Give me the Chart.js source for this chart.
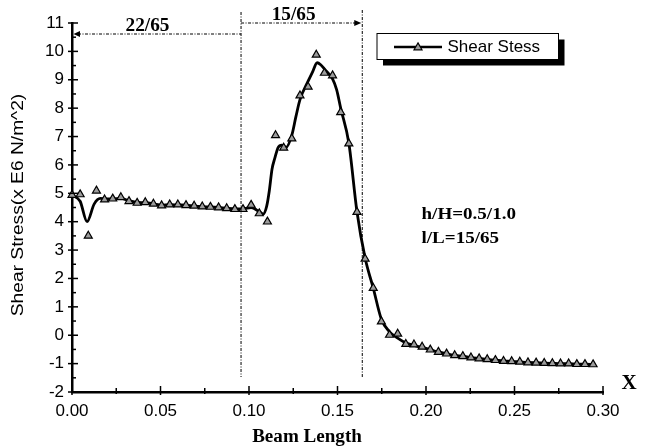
<!DOCTYPE html>
<html>
<head>
<meta charset="utf-8">
<script src="https://cdn.jsdelivr.net/npm/chart.js@4"></script>
<style>
  html, body { margin: 0; padding: 0; background: #fff; }
  canvas { display: block; }
</style>
</head>
<body>
<canvas id="myChart" width="646" height="448"></canvas>
<script>
// measured points (triangles)
const pointX = [0, 0.0046, 0.0092, 0.0138, 0.0184, 0.023, 0.0276, 0.0322, 0.0368, 0.0414,
  0.046, 0.0506, 0.0552, 0.0598, 0.0644, 0.069, 0.0736, 0.0782, 0.0828, 0.0874,
  0.092, 0.0966, 0.1012, 0.1058, 0.1104, 0.115, 0.1196, 0.1242, 0.1288, 0.1334,
  0.138, 0.1426, 0.1472, 0.1518, 0.1564, 0.161, 0.1656, 0.1702, 0.1748, 0.1794,
  0.184, 0.1886, 0.1932, 0.1978, 0.2024, 0.207, 0.2116, 0.2162, 0.2208, 0.2254,
  0.23, 0.2346, 0.2392, 0.2438, 0.2484, 0.253, 0.2576, 0.2622, 0.2668, 0.2714,
  0.276, 0.2806, 0.2852, 0.2898, 0.2944];
const pointY = [4.94, 4.96, 3.50, 5.09, 4.78, 4.81, 4.86, 4.72, 4.66, 4.68,
  4.63, 4.57, 4.60, 4.60, 4.58, 4.56, 4.53, 4.52, 4.50, 4.47,
  4.44, 4.44, 4.59, 4.29, 4.00, 7.04, 6.60, 6.93, 8.44, 8.75,
  9.88, 9.24, 9.15, 7.85, 6.75, 4.34, 2.69, 1.66, 0.48, 0.01,
  0.05, -0.31, -0.33, -0.41, -0.51, -0.59, -0.65, -0.71, -0.74, -0.79,
  -0.82, -0.85, -0.88, -0.91, -0.92, -0.94, -0.96, -0.97, -0.98, -0.99,
  -1.00, -1.00, -1.02, -1.02, -1.03];

// fitted curve (solid line)
const curveX = [0, 0.0046, 0.0085, 0.0125, 0.016, 0.0184, 0.023, 0.0276, 0.0322, 0.0368,
  0.0414, 0.046, 0.0506, 0.0552, 0.0598, 0.0644, 0.069, 0.0736, 0.0782, 0.0828,
  0.0874, 0.092, 0.0966, 0.1012, 0.1058, 0.108, 0.110, 0.1115, 0.113, 0.1145,
  0.1165, 0.1185, 0.121, 0.1242, 0.1265, 0.1288, 0.1334, 0.136, 0.1385, 0.1405,
  0.1426, 0.1472, 0.1495, 0.1518, 0.1564, 0.161, 0.1656, 0.1702, 0.1748, 0.1794,
  0.184, 0.1886, 0.1932, 0.1978, 0.2024, 0.207, 0.2116, 0.2162, 0.2208, 0.2254,
  0.23, 0.2346, 0.2392, 0.2438, 0.2484, 0.253, 0.2576, 0.2622, 0.2668, 0.2714,
  0.276, 0.2806, 0.2852, 0.2898, 0.2944];
const curveY = [4.94, 4.72, 4.00, 4.62, 4.82, 4.80, 4.80, 4.82, 4.74, 4.68,
  4.67, 4.63, 4.58, 4.60, 4.59, 4.58, 4.55, 4.53, 4.52, 4.50,
  4.47, 4.45, 4.45, 4.50, 4.35, 4.27, 4.55, 5.10, 5.85, 6.22,
  6.62, 6.70, 6.62, 7.05, 7.70, 8.30, 8.95, 9.29, 9.60, 9.53,
  9.38, 9.03, 8.65, 8.00, 6.77, 4.35, 2.72, 1.66, 0.56, 0.12,
  -0.10, -0.27, -0.36, -0.43, -0.51, -0.59, -0.65, -0.71, -0.74, -0.79,
  -0.82, -0.85, -0.88, -0.91, -0.92, -0.94, -0.96, -0.97, -0.98, -0.99,
  -1.00, -1.00, -1.02, -1.02, -1.03];

// section boundaries along the beam
const sectionX = [0, 0.0955, 0.164];
const sectionLabels = ['22/65', '15/65'];
const noteLines = ['h/H=0.5/1.0', 'l/L=15/65'];
const seriesName = 'Shear Stess';

const SANS = '"Liberation Sans", Arial, sans-serif';
const SERIF = '"Liberation Serif", "Times New Roman", serif';
const MARK_FILL = '#9c9c9c';

function txt(ctx, s, x, y, font, align, sx) {
  ctx.save();
  ctx.translate(x, y);
  ctx.scale(sx || 1, 1);
  ctx.font = font;
  ctx.fillStyle = '#000';
  ctx.textAlign = align || 'center';
  ctx.textBaseline = 'middle';
  ctx.fillText(s, 0, 0);
  ctx.restore();
}

function tri(ctx, x, y, r) {
  ctx.beginPath();
  ctx.moveTo(x, y - r);
  ctx.lineTo(x + r * 0.866, y + r * 0.5);
  ctx.lineTo(x - r * 0.866, y + r * 0.5);
  ctx.closePath();
  ctx.fillStyle = MARK_FILL;
  ctx.fill();
  ctx.lineWidth = 1.2;
  ctx.strokeStyle = '#000';
  ctx.stroke();
}

const whiteBg = {
  id: 'whiteBg',
  beforeDraw(chart) {
    const ctx = chart.ctx;
    ctx.save();
    ctx.fillStyle = '#fff';
    ctx.fillRect(0, 0, chart.width, chart.height);
    ctx.restore();
  }
};

const decorations = {
  id: 'decorations',
  afterDraw(chart) {
    const ctx = chart.ctx;
    const xs = chart.scales.x, ys = chart.scales.y;
    const area = chart.chartArea;
    ctx.save();

    // axis tick marks (major + minor)
    ctx.strokeStyle = '#000';
    ctx.lineWidth = 1.5;
    ys.ticks.forEach(t => {
      const py = ys.getPixelForValue(t.value);
      ctx.beginPath(); ctx.moveTo(area.left - 4, py); ctx.lineTo(area.left + 6, py); ctx.stroke();
      if (t.value < ys.max) {
        const pm = ys.getPixelForValue(t.value + 0.5);
        ctx.beginPath(); ctx.moveTo(area.left, pm); ctx.lineTo(area.left + 4, pm); ctx.stroke();
      }
    });
    xs.ticks.forEach(t => {
      const px = xs.getPixelForValue(t.value);
      ctx.beginPath(); ctx.moveTo(px, area.bottom - 6); ctx.lineTo(px, area.bottom + 3); ctx.stroke();
      if (t.value < xs.max - 1e-9) {
        const pm = xs.getPixelForValue(t.value + 0.025);
        ctx.beginPath(); ctx.moveTo(pm, area.bottom - 4); ctx.lineTo(pm, area.bottom + 2); ctx.stroke();
      }
    });

    // dash-dot section lines
    const x0 = xs.getPixelForValue(sectionX[0]);
    const x1 = xs.getPixelForValue(sectionX[1]);
    const x2 = xs.getPixelForValue(sectionX[2]);
    ctx.lineWidth = 1;
    ctx.setLineDash([3, 1.5, 1, 1.5]);
    ctx.beginPath(); ctx.moveTo(x1, 12); ctx.lineTo(x1, 377); ctx.stroke();
    ctx.beginPath(); ctx.moveTo(x2, 10); ctx.lineTo(x2, 377); ctx.stroke();
    ctx.beginPath(); ctx.moveTo(x0 + 6, 34); ctx.lineTo(x1, 34); ctx.stroke();
    ctx.beginPath(); ctx.moveTo(x1, 23); ctx.lineTo(x2 - 6, 23); ctx.stroke();
    ctx.setLineDash([]);
    ctx.fillStyle = '#000';
    ctx.beginPath(); ctx.moveTo(x0 + 1.5, 34); ctx.lineTo(x0 + 8, 31); ctx.lineTo(x0 + 8, 37); ctx.closePath(); ctx.fill();
    ctx.beginPath(); ctx.moveTo(x2 - 1, 23); ctx.lineTo(x2 - 8, 20); ctx.lineTo(x2 - 8, 26); ctx.closePath(); ctx.fill();

    txt(ctx, sectionLabels[0], (x0 + x1) / 2 - 9, 26.5, 'bold 18px ' + SERIF, 'center', 1.07);
    txt(ctx, sectionLabels[1], (x1 + x2) / 2 - 8, 15, 'bold 18px ' + SERIF, 'center', 1.07);

    // notes
    txt(ctx, noteLines[0], 421.5, 215, 'bold 17px ' + SERIF, 'left', 1.12);
    txt(ctx, noteLines[1], 421.5, 238.5, 'bold 17px ' + SERIF, 'left', 1.12);

    // axis titles
    txt(ctx, 'Beam Length', 307, 437, 'bold 18px ' + SERIF, 'center', 1.06);
    txt(ctx, 'X', 629, 384, 'bold 21px ' + SERIF, 'center', 1);
    ctx.save();
    ctx.translate(19, 205);
    ctx.rotate(-Math.PI / 2);
    txt(ctx, 'Shear Stress(x E6 N/m^2)', 0, 0, '16px ' + SANS, 'center', 1.2);
    ctx.restore();

    // legend with drop shadow
    ctx.fillStyle = '#000';
    ctx.fillRect(383, 39.5, 181.5, 26);
    ctx.fillStyle = '#fff';
    ctx.fillRect(377, 33.5, 181.5, 26);
    ctx.lineWidth = 1;
    ctx.strokeStyle = '#000';
    ctx.strokeRect(377, 33.5, 181.5, 26);
    ctx.lineWidth = 2.5;
    ctx.beginPath(); ctx.moveTo(394, 47); ctx.lineTo(442, 47); ctx.stroke();
    tri(ctx, 418, 47.5, 4.6);
    txt(ctx, seriesName, 447.5, 47, '17px ' + SANS, 'left', 1);

    ctx.restore();
  }
};

new Chart(document.getElementById('myChart'), {
  type: 'scatter',
  data: {
    datasets: [{
      label: seriesName,
      data: pointX.map((x, i) => ({ x: x, y: pointY[i] })),
      showLine: false,
      pointStyle: 'triangle',
      pointRadius: 4.6,
      pointBackgroundColor: MARK_FILL,
      pointBorderColor: '#000',
      pointBorderWidth: 1.2,
      clip: false,
      order: 0
    }, {
      label: 'fit',
      data: curveX.map((x, i) => ({ x: x, y: curveY[i] })),
      showLine: true,
      pointRadius: 0,
      borderColor: '#000',
      borderWidth: 2.8,
      cubicInterpolationMode: 'monotone',
      clip: false,
      order: 1
    }]
  },
  options: {
    responsive: false,
    animation: false,
    devicePixelRatio: 1,
    layout: { padding: { top: 23, right: 43, left: 0, bottom: 0 } },
    plugins: { legend: { display: false }, tooltip: { enabled: false } },
    scales: {
      x: {
        type: 'linear', min: 0, max: 0.30,
        grid: { display: false, drawTicks: false },
        border: { display: true, color: '#000', width: 2.5 },
        ticks: {
          stepSize: 0.05, padding: 9, color: '#000',
          font: { family: SANS, size: 17 },
          callback: v => v.toFixed(2)
        },
        afterFit: s => { s.height = 56; }
      },
      y: {
        type: 'linear', min: -2, max: 11,
        grid: { display: false, drawTicks: false },
        border: { display: true, color: '#000', width: 2.5 },
        ticks: {
          stepSize: 1, padding: 8, color: '#000',
          font: { family: SANS, size: 17 }
        },
        afterFit: s => { s.width = 72; }
      }
    }
  },
  plugins: [whiteBg, decorations]
});
</script>
</body>
</html>
